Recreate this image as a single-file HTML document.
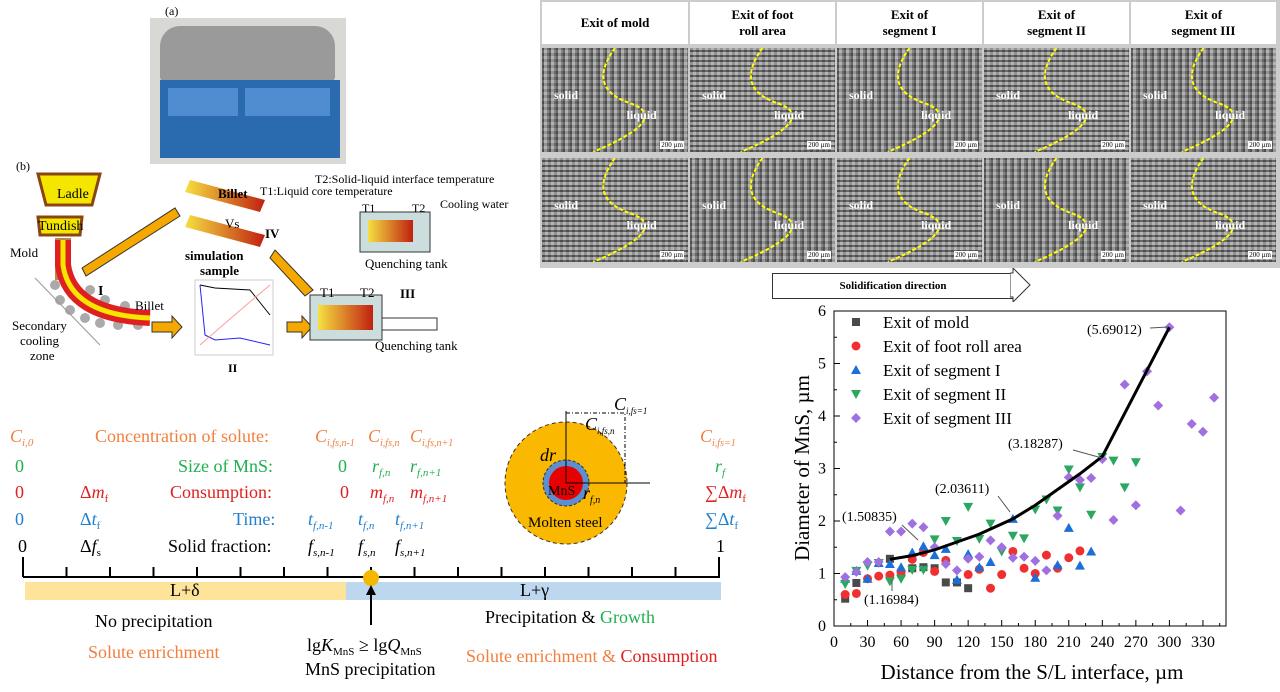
<!DOCTYPE html>
<html><head><meta charset="utf-8">
<style>
body{margin:0;width:1280px;height:692px;background:#fff;overflow:hidden;font-family:"Liberation Serif",serif;position:relative}
.a{position:absolute;white-space:nowrap}
.tab{position:absolute;left:540px;top:0;width:740px;height:268px;background:#ccc}
.hd{position:absolute;top:2px;height:42px;background:#fff;font-weight:bold;font-size:13px;text-align:center;display:flex;align-items:center;justify-content:center;line-height:16px}
.im{position:absolute;height:104px;background:repeating-linear-gradient(90deg,rgba(60,60,60,.6) 0 2px,rgba(190,190,190,.5) 2px 5px,rgba(100,100,100,.5) 5px 7px),repeating-linear-gradient(0deg,#6a6a6a 0 3px,#a8a8a8 3px 6px)}
.im2{background:repeating-linear-gradient(0deg,rgba(60,60,60,.6) 0 2px,rgba(190,190,190,.5) 2px 5px),repeating-linear-gradient(90deg,#666 0 3px,#aaa 3px 6px)}
.lab{position:absolute;color:#fff;font-weight:bold;font-size:12px}
.sb{position:absolute;right:4px;bottom:3px;color:#000;background:#fff;font-size:7px;padding:0 1px}
</style></head><body>

<div class="a" style="left:165px;top:4px;font-size:12px">(a)</div>
<div class="a" style="left:150px;top:18px;width:196px;height:146px;background:#d8d8d4"></div>
<div class="a" style="left:160px;top:26px;width:175px;height:55px;background:#9a9a9a;border-radius:20px 20px 4px 4px"></div>
<div class="a" style="left:160px;top:80px;width:180px;height:78px;background:#2a6bb0"></div>
<div class="a" style="left:168px;top:88px;width:70px;height:28px;background:#4f8cd0"></div>
<div class="a" style="left:245px;top:88px;width:85px;height:28px;background:#4f8cd0"></div>

<svg class="a" style="left:0;top:150px" width="530" height="230">
<text x="16" y="20" font-size="12">(b)</text>
<polygon points="38,24 100,24 92,55 46,55" fill="#f5e600" stroke="#8b4513" stroke-width="3"/>
<text x="57" y="48" font-size="14">Ladle</text>
<polygon points="38,67 82,67 80,85 40,85" fill="#f5e600" stroke="#8b4513" stroke-width="3"/>
<text x="38" y="80" font-size="14">Tundish</text>
<rect x="55" y="88" width="16" height="42" fill="#b8864e"/>
<text x="10" y="107" font-size="13">Mold</text>
<g fill="#aaa"><circle cx="55" cy="135" r="5"/><circle cx="60" cy="150" r="5"/><circle cx="70" cy="160" r="5"/><circle cx="85" cy="168" r="5"/><circle cx="100" cy="173" r="5"/><circle cx="118" cy="175" r="5"/><circle cx="138" cy="175" r="5"/><circle cx="90" cy="140" r="5"/><circle cx="105" cy="150" r="5"/><circle cx="125" cy="156" r="5"/></g>
<path d="M63,90 L63,115 Q70,165 150,168" stroke="#e02020" stroke-width="16" fill="none"/>
<path d="M63,90 L63,115 Q70,165 150,168" stroke="#f5e600" stroke-width="5" fill="none"/>
<text x="98" y="145" font-size="14" font-weight="bold">I</text>
<text x="135" y="160" font-size="13">Billet</text>
<text x="12" y="180" font-size="13">Secondary</text><text x="20" y="195" font-size="13">cooling</text><text x="30" y="210" font-size="13">zone</text>
<line x1="35" y1="128" x2="100" y2="195" stroke="#999"/>
<polygon points="82,118 175,58 180,66 86,126" fill="#f5a800" stroke="#333"/>
<defs><linearGradient id="g1" x1="0" x2="1"><stop offset="0" stop-color="#f5e040"/><stop offset="1" stop-color="#c02010"/></linearGradient></defs>
<polygon points="190,30 265,50 260,62 185,42" fill="url(#g1)"/>
<polygon points="190,65 265,85 260,97 185,77" fill="url(#g1)"/>
<text x="218" y="48" font-size="13" font-weight="bold">Billet</text>
<text x="225" y="78" font-size="13">Vs</text>
<text x="185" y="110" font-size="13" font-weight="bold">simulation</text>
<text x="200" y="125" font-size="13" font-weight="bold">sample</text>
<text x="265" y="88" font-size="13" font-weight="bold">IV</text>
<polygon points="152,172 172,172 172,166 182,177 172,188 172,182 152,182" fill="#f5a800" stroke="#333"/>
<rect x="195" y="130" width="78" height="75" fill="#fff" stroke="#ccc"/>
<path d="M200,135 L215,138 L250,140 L262,155 L270,165" stroke="#000" fill="none"/>
<path d="M200,135 L205,185 L215,190 L240,188 L270,195" stroke="#22f" fill="none"/>
<path d="M200,195 Q240,160 270,135" stroke="#f99" fill="none"/>
<text x="228" y="222" font-size="12" font-weight="bold">II</text>
<polygon points="287,172 302,172 302,166 312,177 302,188 302,182 287,182" fill="#f5a800" stroke="#333"/>
<polygon points="313,140 275,100 270,108 305,146" fill="#f5a800" stroke="#333"/>
<rect x="310" y="145" width="72" height="45" fill="#cdd" stroke="#333"/>
<rect x="318" y="155" width="55" height="25" fill="url(#g1)"/>
<text x="320" y="147" font-size="13">T1</text><text x="360" y="147" font-size="13">T2</text>
<text x="400" y="148" font-size="13" font-weight="bold">III</text>
<rect x="382" y="168" width="55" height="12" fill="#fff" stroke="#333"/>
<text x="375" y="200" font-size="13">Quenching tank</text>
<rect x="360" y="62" width="70" height="40" fill="#cdd" stroke="#333"/>
<rect x="368" y="70" width="45" height="22" fill="url(#g1)"/>
<text x="362" y="62" font-size="12">T1</text><text x="412" y="62" font-size="12">T2</text>
<text x="440" y="58" font-size="12">Cooling water</text>
<text x="365" y="118" font-size="13">Quenching tank</text>
<text x="315" y="33" font-size="12">T2:Solid-liquid interface temperature</text>
<text x="260" y="45" font-size="12">T1:Liquid core temperature</text>
</svg>

<div class="tab"><div id="cells"></div></div>
<div class="a" style="left:772px;top:273px;width:240px;height:24px;border:1px solid #333;border-right:none;font-size:11px;font-weight:bold;text-align:center;line-height:24px">Solidification direction</div>
<svg class="a" style="left:1010px;top:268px" width="25" height="34"><polygon points="0,5 3,5 3,0 20,17 3,34 3,29 0,29" fill="#fff" stroke="#333"/></svg>

<svg class="a" style="left:0;top:395px" width="780" height="297" font-size="18">
<g fill="#f08040">
<text x="10" y="47" font-style="italic">C<tspan font-size="11" dy="4">i,0</tspan></text>
<text x="95" y="47">Concentration of solute:</text>
<text x="315" y="47" font-style="italic">C<tspan font-size="10" dy="4">i,fs,n-1</tspan></text>
<text x="368" y="47" font-style="italic">C<tspan font-size="10" dy="4">i,fs,n</tspan></text>
<text x="410" y="47" font-style="italic">C<tspan font-size="10" dy="4">i,fs,n+1</tspan></text>
<text x="700" y="47" font-style="italic">C<tspan font-size="10" dy="4">i,fs=1</tspan></text>
</g>
<g fill="#20b050">
<text x="15" y="77">0</text><text x="178" y="77">Size of MnS:</text><text x="338" y="77">0</text>
<text x="372" y="77" font-style="italic">r<tspan font-size="11" dy="4">f,n</tspan></text>
<text x="410" y="77" font-style="italic">r<tspan font-size="11" dy="4">f,n+1</tspan></text>
<text x="715" y="77" font-style="italic">r<tspan font-size="11" dy="4">f</tspan></text>
</g>
<g fill="#e02020">
<text x="15" y="103">0</text><text x="80" y="103">Δ<tspan font-style="italic">m</tspan><tspan font-size="11" dy="4">f</tspan></text>
<text x="170" y="103">Consumption:</text><text x="340" y="103">0</text>
<text x="370" y="103" font-style="italic">m<tspan font-size="11" dy="4">f,n</tspan></text>
<text x="410" y="103" font-style="italic">m<tspan font-size="11" dy="4">f,n+1</tspan></text>
<text x="705" y="103">∑Δ<tspan font-style="italic">m</tspan><tspan font-size="11" dy="4">f</tspan></text>
</g>
<g fill="#2080d0">
<text x="15" y="130">0</text><text x="80" y="130">Δ<tspan font-style="italic">t</tspan><tspan font-size="11" dy="4">f</tspan></text>
<text x="233" y="130">Time:</text>
<text x="308" y="130" font-style="italic">t<tspan font-size="11" dy="4">f,n-1</tspan></text>
<text x="358" y="130" font-style="italic">t<tspan font-size="11" dy="4">f,n</tspan></text>
<text x="395" y="130" font-style="italic">t<tspan font-size="11" dy="4">f,n+1</tspan></text>
<text x="705" y="130">∑Δ<tspan font-style="italic">t</tspan><tspan font-size="11" dy="4">f</tspan></text>
</g>
<g fill="#000">
<text x="18" y="157">0</text><text x="80" y="157">Δ<tspan font-style="italic">f</tspan><tspan font-size="11" dy="4">s</tspan></text>
<text x="168" y="157">Solid fraction:</text>
<text x="308" y="157" font-style="italic">f<tspan font-size="11" dy="4">s,n-1</tspan></text>
<text x="358" y="157" font-style="italic">f<tspan font-size="11" dy="4">s,n</tspan></text>
<text x="395" y="157" font-style="italic">f<tspan font-size="11" dy="4">s,n+1</tspan></text>
<text x="716" y="157">1</text>
</g>
<rect x="25" y="187" width="321" height="18" fill="#fde49a"/>
<rect x="346" y="187" width="375" height="18" fill="#bcd7ee"/>
<line x1="23" y1="182" x2="720" y2="182" stroke="#000" stroke-width="2"/>
<g stroke="#000" stroke-width="2" id="ticks"></g>
<circle cx="371" cy="183" r="8" fill="#f5b800"/>
<line x1="371" y1="230" x2="371" y2="194" stroke="#000" stroke-width="2"/>
<polygon points="366,200 371,190 376,200"/>
<text x="170" y="201">L+δ</text><text x="520" y="201">L+γ</text>
<text x="95" y="232">No precipitation</text>
<text x="485" y="228">Precipitation &amp; <tspan fill="#20b050">Growth</tspan></text>
<text x="88" y="263" fill="#f08040">Solute enrichment</text>
<text x="466" y="267" fill="#f08040">Solute enrichment &amp; <tspan fill="#e02020">Consumption</tspan></text>
<text x="307" y="256">lg<tspan font-style="italic">K</tspan><tspan font-size="11" dy="4">MnS</tspan><tspan dy="-4"> ≥ lg</tspan><tspan font-style="italic">Q</tspan><tspan font-size="11" dy="4">MnS</tspan></text>
<text x="305" y="280">MnS precipitation</text>
<circle cx="566" cy="88" r="61" fill="#fbb800" stroke="#333" stroke-dasharray="4,3"/>
<circle cx="566" cy="88" r="23" fill="#5b8fd0" stroke="#333" stroke-dasharray="3,2"/>
<circle cx="566" cy="88" r="17" fill="#e80000"/>
<line x1="566" y1="88" x2="566" y2="16" stroke="#000"/><line x1="566" y1="88" x2="650" y2="88" stroke="#000"/>
<polyline points="566,18 625,18 625,88" fill="none" stroke="#000" stroke-dasharray="4,2,1,2"/>
<text x="548" y="100" font-size="14">MnS</text>
<text x="540" y="66" font-style="italic">dr</text>
<text x="583" y="104" font-style="italic">r<tspan font-size="10" dy="4">f,n</tspan></text>
<text x="528" y="132" font-size="15">Molten steel</text>
<text x="614" y="15" font-style="italic">C<tspan font-size="9" dy="4">i,fs=1</tspan></text>
<text x="585" y="35" font-style="italic">C<tspan font-size="9" dy="4">i,fs,n</tspan></text>
</svg>

<svg class="a" style="left:780px;top:300px" width="500" height="392" id="ch" font-size="14"></svg>

<script>
var cols=[542,690,837,984,1131,1278];var heads=["Exit of mold","Exit of foot<br>roll area","Exit of<br>segment I","Exit of<br>segment II","Exit of<br>segment III"];
var h="";
for(var i=0;i<5;i++){var l=cols[i]-540,w=cols[i+1]-cols[i]-2;
h+='<div class="hd" style="left:'+l+'px;width:'+w+'px">'+heads[i]+'</div>';
for(var r=0;r<2;r++){var t=r?158:48;
h+='<div class="im'+((i+r)%2?' im2':'')+'" style="left:'+l+'px;top:'+t+'px;width:'+w+'px"><svg width="'+w+'" height="104" style="position:absolute;left:0;top:0"><path d="M'+(w*0.5)+',0 Q'+(w*0.3)+',40 '+(w*0.6)+',55 T'+(w*0.35)+',104" stroke="#ff0" stroke-width="2" stroke-dasharray="4,2" fill="none"/></svg><span class="lab" style="left:12px;top:40px">solid</span><span class="lab" style="left:'+(w*0.58)+'px;top:60px">liquid</span><span class="sb">200 µm</span></div>';}
}
document.getElementById('cells').innerHTML=h;
var tk="";for(var k=0;k<=16;k++){var x=23+k*43.5;tk+='<line x1="'+x+'" y1="182" x2="'+x+'" y2="'+(k==0||k==16?162:172)+'"/>';}
document.getElementById('ticks').innerHTML=tk;
var X=function(v){return 54+v*1.118},Y=function(v){return 326-v*52.5};
var s='<rect x="54" y="11" width="392" height="315" fill="none" stroke="#000"/>';
for(var v=0;v<=330;v+=30){s+='<line x1="'+X(v)+'" y1="326" x2="'+X(v)+'" y2="320" stroke="#000"/><text x="'+X(v)+'" y="347" text-anchor="middle" font-size="16">'+v+'</text>';}
for(var v=15;v<=345;v+=30)s+='<line x1="'+X(v)+'" y1="326" x2="'+X(v)+'" y2="323" stroke="#000"/>';
for(var v=0;v<=6;v++){s+='<line x1="54" y1="'+Y(v)+'" x2="60" y2="'+Y(v)+'" stroke="#000"/><text x="46" y="'+(Y(v)+5)+'" text-anchor="end" font-size="16">'+v+'</text>';}
for(var v=0.5;v<6;v+=1)s+='<line x1="54" y1="'+Y(v)+'" x2="57" y2="'+Y(v)+'" stroke="#000"/>';
s+='<text x="252" y="379" text-anchor="middle" font-size="21">Distance from the S/L interface, µm</text>';
s+='<text transform="translate(29,168) rotate(-90)" text-anchor="middle" font-size="21">Diameter of MnS, µm</text>';
var D=[
[[10,.52],[20,.82],[50,1.28],[60,1.0],[70,1.1],[80,1.12],[90,1.1],[100,.83],[110,.83],[120,.72]],
[[10,.6],[20,.62],[30,.9],[40,.95],[50,.97],[60,1.02],[70,1.27],[80,1.4],[90,1.04],[100,1.25],[120,.98],[130,1.08],[140,.72],[150,.98],[160,1.42],[170,1.1],[180,1.0],[190,1.35],[200,1.1],[210,1.3],[220,1.43]],
[[10,.9],[20,1.05],[30,.9],[40,1.2],[50,1.18],[60,1.12],[70,1.4],[80,1.52],[90,1.35],[100,1.47],[110,.88],[120,1.37],[130,1.12],[140,1.22],[160,2.04],[180,.92],[200,1.16],[210,1.87],[220,1.15],[230,1.42]],
[[10,.8],[20,1.05],[30,1.15],[40,1.2],[50,.85],[60,.9],[70,1.07],[80,1.07],[90,1.65],[100,2.0],[110,1.62],[120,2.27],[130,1.66],[140,1.95],[150,1.42],[160,1.72],[170,1.67],[180,2.22],[190,2.41],[200,2.2],[210,2.98],[220,2.64],[230,2.12],[240,3.22],[250,3.15],[260,2.64],[270,3.12]],
[[10,.93],[20,1.03],[30,1.22],[40,1.22],[50,1.8],[60,1.8],[70,1.95],[80,1.88],[90,1.5],[100,1.18],[110,1.06],[120,1.28],[130,1.32],[140,1.63],[150,1.5],[160,1.3],[170,1.32],[180,1.24],[190,1.06],[200,2.1],[210,2.83],[220,2.78],[230,2.82],[240,3.18],[250,2.02],[260,4.6],[270,2.3],[280,4.85],[290,4.2],[300,5.69],[310,2.2],[320,3.85],[330,3.7],[340,4.35]]];
var C=["#4a4a4a","#f03030","#1a6fd8","#2aa860","#a070e0"];
function mk(k,x,y){var c=C[k];
if(k==0)return '<rect x="'+(x-4)+'" y="'+(y-4)+'" width="8" height="8" fill="'+c+'"/>';
if(k==1)return '<circle cx="'+x+'" cy="'+y+'" r="4.5" fill="'+c+'"/>';
if(k==2)return '<polygon points="'+x+','+(y-5)+' '+(x+5)+','+(y+4)+' '+(x-5)+','+(y+4)+'" fill="'+c+'"/>';
if(k==3)return '<polygon points="'+x+','+(y+5)+' '+(x+5)+','+(y-4)+' '+(x-5)+','+(y-4)+'" fill="'+c+'"/>';
return '<polygon points="'+x+','+(y-5)+' '+(x+5)+','+y+' '+x+','+(y+5)+' '+(x-5)+','+y+'" fill="'+c+'"/>';}
for(var k=0;k<5;k++)D[k].forEach(function(p){s+=mk(k,X(p[0]),Y(p[1]))});
var L=[[50,1.27],[70,1.34],[90,1.45],[110,1.6],[130,1.75],[160,2.04],[180,2.3],[200,2.6],[220,2.9],[240,3.23],[300,5.69]];
s+='<polyline fill="none" stroke="#000" stroke-width="3" points="'+L.map(function(p){return X(p[0])+','+Y(p[1])}).join(' ')+'"/>';
var lg=["Exit of mold","Exit of foot roll area","Exit of segment I","Exit of segment II","Exit of segment III"];
for(var k=0;k<5;k++){s+=mk(k,76,22+k*24)+'<text x="103" y="'+(28+k*24)+'" font-size="17">'+lg[k]+'</text>';}
s+='<text x="307" y="34" font-size="14">(5.69012)</text><line x1="370" y1="28" x2="388" y2="27" stroke="#555"/>';
s+='<text x="228" y="148" font-size="14">(3.18287)</text><line x1="293" y1="150" x2="322" y2="158" stroke="#555"/>';
s+='<text x="155" y="193" font-size="14">(2.03611)</text><line x1="218" y1="196" x2="230" y2="212" stroke="#555"/>';
s+='<text x="62" y="221" font-size="14">(1.50835)</text><line x1="122" y1="225" x2="138" y2="240" stroke="#555"/>';
s+='<text x="84" y="304" font-size="14">(1.16984)</text><line x1="112" y1="291" x2="112" y2="280" stroke="#555"/>';
document.getElementById('ch').innerHTML=s;
</script>
</body></html>
